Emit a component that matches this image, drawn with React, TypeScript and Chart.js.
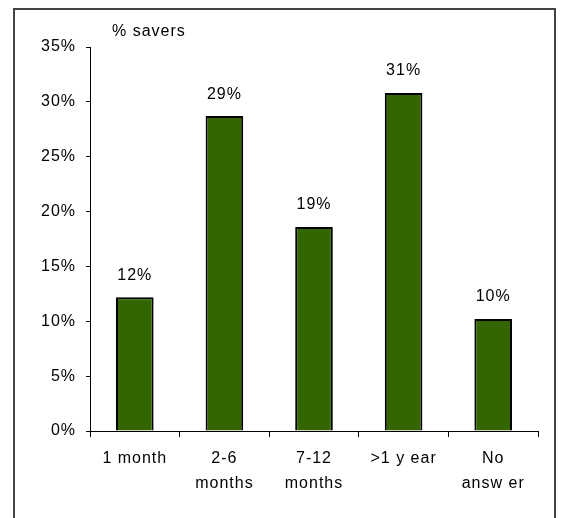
import React, { useEffect, useRef } from "react";
import { Chart, registerables } from "chart.js";

Chart.register(...registerables);

const categories: (string | string[])[] = [
  "1 month",
  ["2-6", "months"],
  ["7-12", "months"],
  ">1 y ear",
  ["No", "answ er"],
];
const saverShares = [12.2, 28.7, 18.6, 30.8, 10.2];
const yTickValues = [0, 5, 10, 15, 20, 25, 30, 35];
const axisTitle = "% savers";

const FONT = "'Liberation Sans', Arial, sans-serif";
const FONT_SIZE = 16;
const BAR_GREEN = "#336600";

const frameAndTitle = {
  id: "frameAndTitle",
  beforeDraw(chart: any) {
    const ctx = chart.ctx;
    // slightly widened lettering for every text drawn on the canvas
    ctx.letterSpacing = "1px";
    ctx.save();
    ctx.fillStyle = "#ffffff";
    ctx.fillRect(0, 0, chart.width, chart.height);
    ctx.strokeStyle = "#444444";
    ctx.lineWidth = 2;
    ctx.strokeRect(14, 9, 541, 560);
    ctx.restore();
  },
  afterDraw(chart: any) {
    const ctx = chart.ctx;
    const area = chart.chartArea;
    ctx.save();
    ctx.font = `${FONT_SIZE}px ${FONT}`;
    ctx.fillStyle = "#000";
    ctx.textAlign = "left";
    ctx.textBaseline = "middle";
    ctx.fillText(axisTitle, area.left + 22, area.top - 15);
    ctx.restore();
  },
};

const valueLabels = {
  id: "valueLabels",
  afterDatasetsDraw(chart: any) {
    const ctx = chart.ctx;
    const meta = chart.getDatasetMeta(0);
    ctx.save();
    ctx.font = `${FONT_SIZE}px ${FONT}`;
    ctx.fillStyle = "#000";
    ctx.textAlign = "center";
    ctx.textBaseline = "middle";
    meta.data.forEach((bar: any, i: number) => {
      const v = saverShares[i];
      ctx.fillText(`${Math.round(v)}%`, bar.x, bar.y - 22);
    });
    ctx.restore();
  },
};

export default function App() {
  const canvasRef = useRef<HTMLCanvasElement | null>(null);

  useEffect(() => {
    const canvas = canvasRef.current;
    if (!canvas) return;
    const chart = new Chart(canvas, {
      type: "bar",
      data: {
        labels: categories,
        datasets: [
          {
            data: saverShares,
            backgroundColor: BAR_GREEN,
            borderColor: "#000000",
            borderWidth: 2,
            barPercentage: 0.42,
            categoryPercentage: 1,
          },
        ],
      },
      options: {
        responsive: false,
        animation: false,
        devicePixelRatio: 1,
        layout: { padding: { top: 47, right: 25, left: 0, bottom: 0 } },
        plugins: {
          legend: { display: false },
          tooltip: { enabled: false },
          title: { display: false },
        },
        scales: {
          x: {
            offset: true,
            grid: {
              offset: true,
              drawOnChartArea: false,
              drawTicks: true,
              tickLength: 6,
              color: "#000",
            },
            border: { display: true, color: "#000", width: 1 },
            ticks: {
              color: "#000",
              font: { family: FONT, size: FONT_SIZE, lineHeight: 1.56 },
              padding: 9,
              maxRotation: 0,
              autoSkip: false,
            },
            afterFit(scale: any) {
              scale.height = 87;
            },
          },
          y: {
            min: 0,
            max: 35,
            afterBuildTicks(scale: any) {
              scale.ticks = yTickValues.map((v) => ({ value: v }));
            },
            grid: {
              drawOnChartArea: false,
              drawTicks: true,
              tickLength: 4,
              color: "#000",
            },
            border: { display: true, color: "#000", width: 1 },
            ticks: {
              color: "#000",
              font: { family: FONT, size: FONT_SIZE },
              padding: 10,
              callback: (v: any) => `${v}%`,
            },
            afterFit(scale: any) {
              scale.width = 90;
            },
          },
        },
      },
      plugins: [frameAndTitle, valueLabels],
    });
    return () => chart.destroy();
  }, []);

  return (
    <div
      style={{
        position: "fixed",
        left: 0,
        top: 0,
        width: 563,
        height: 518,
        background: "#fff",
      }}
    >
      <canvas ref={canvasRef} width={563} height={518} />
    </div>
  );
}
